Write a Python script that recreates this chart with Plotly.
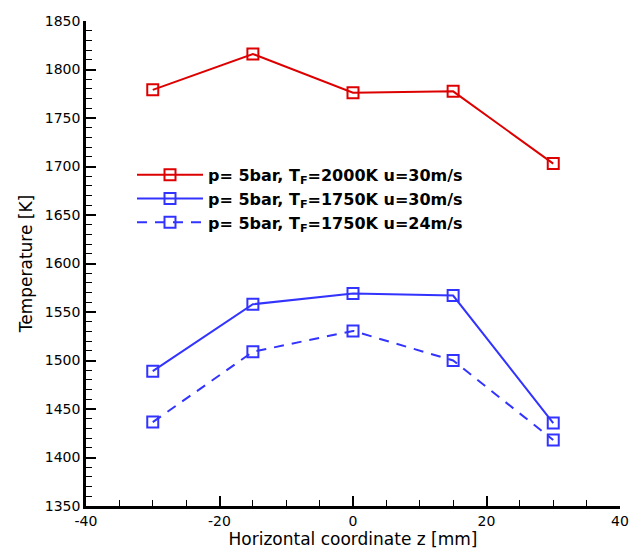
import plotly.graph_objects as go

z = [-30, -15, 0, 15, 30]
t_2000_30 = [1779, 1816, 1776, 1777.5, 1703]
t_1750_30 = [1489, 1558, 1569, 1567, 1435.5]
t_1750_24 = [1436.5, 1509, 1530.5, 1500, 1418]

x_ticks = [-40, -20, 0, 20, 40]
x_tick_labels = ["-40", "-20", "0", "20", "40"]

names = [
    "<b>p= 5bar, T<sub>F</sub>=2000K u=30m/s</b>",
    "<b>p= 5bar, T<sub>F</sub>=1750K u=30m/s</b>",
    "<b>p= 5bar, T<sub>F</sub>=1750K u=24m/s</b>",
]
series = [t_2000_30, t_1750_30, t_1750_24]
colors = ["#dd0000", "#3333ff", "#3333ff"]
dashes = ["solid", "solid", "10px,8px"]

FONT = "DejaVu Sans"

fig = go.Figure()
for name, ys, c, d in zip(names, series, colors, dashes):
    fig.add_trace(go.Scatter(
        x=z, y=ys, name=name, mode="lines+markers",
        line=dict(color=c, width=2, dash=d),
        marker=dict(symbol="square-open", size=11, color=c, line=dict(width=2, color=c)),
    ))

axis_common = dict(
    showgrid=False, zeroline=False, showline=True, linecolor="black", linewidth=2.5,
    ticks="inside", ticklen=10, tickwidth=2, tickcolor="black",
    tickfont=dict(family=FONT, size=14, color="black"),
    mirror=False,
)
fig.update_layout(
    template="none",
    width=643, height=551,
    margin=dict(l=86, r=23, t=21, b=45),
    plot_bgcolor="white", paper_bgcolor="white",
    font=dict(family=FONT, color="black"),
    xaxis=dict(range=[-40, 40], tickvals=x_ticks, ticktext=x_tick_labels, **axis_common,
               minor=dict(dtick=5, ticks="inside", ticklen=6, tickwidth=1, tickcolor="black"),
               title=dict(text="Horizontal coordinate z [mm]",
                          font=dict(family=FONT, size=17, color="black"), standoff=3)),
    yaxis=dict(range=[1350, 1850], dtick=50, **axis_common,
               minor=dict(dtick=10, ticks="inside", ticklen=6, tickwidth=1, tickcolor="black"),
               title=dict(text="Temperature [K]",
                          font=dict(family=FONT, size=17, color="black"), standoff=8)),
    legend=dict(x=(132 - 86) / 534, y=0.718, xanchor="left", yanchor="top",
                bgcolor="rgba(0,0,0,0)", font=dict(family=FONT, size=16, color="black"),
                itemwidth=66, tracegroupgap=0, borderwidth=0),
    showlegend=True,
)
fig.write_html("out.html")
